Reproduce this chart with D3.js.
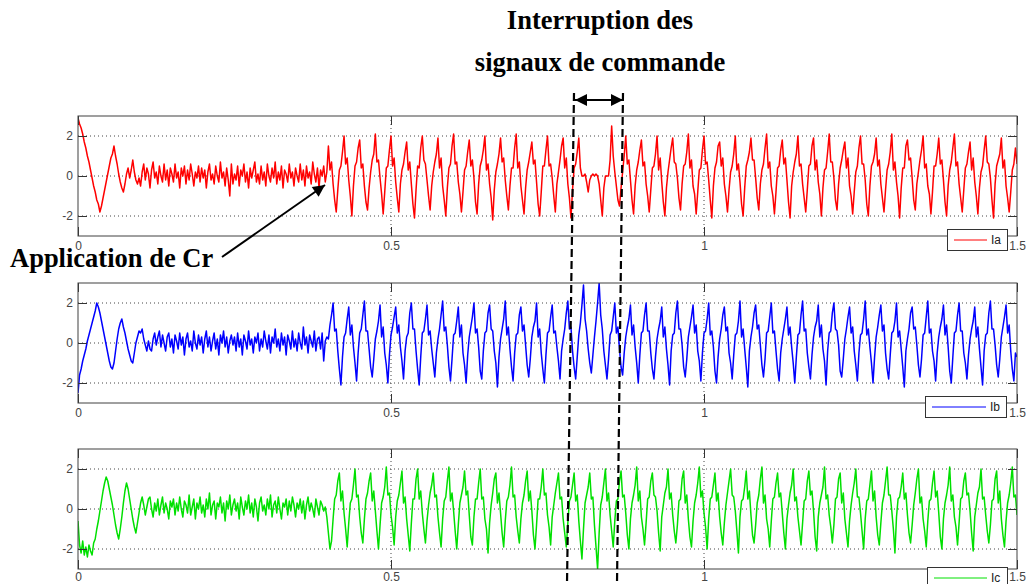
<!DOCTYPE html>
<html>
<head>
<meta charset="utf-8">
<title>Courants Ia Ib Ic</title>
<script src="https://cdnjs.cloudflare.com/ajax/libs/d3/7.8.5/d3.min.js"></script>
<style>
  html, body { margin: 0; padding: 0; background: #fff; }
  svg text { font-family: "Liberation Sans", Arial, sans-serif; }
  .note { font-family: "Liberation Serif", "Times New Roman", serif; font-weight: bold; font-size: 26.5px; fill: #000; }
</style>
</head>
<body>
<svg id="chart" width="1026" height="584"></svg>
<script>
// sample step of the traces (s)
const dt = 0.0025
const xTicks = [0, 0.5, 1, 1.5]
const xTickLabels = ['0', '0.5', '1', '1.5']
const xGrid = [0.5, 1]
const yTicks = [-2, 0, 2]
const yTickLabels = ['-2', '0', '2']
const names = ['Ia', 'Ib', 'Ic']

// phase a current
const ia = [
  2.9, 2.6, 2.4, 2.1, 1.7, 1.4, 1.0, 0.7, 0.3, -0.1, -0.5, -0.8, -1.2, -1.4, -1.8, -1.5, -1.1, -0.7, -0.3, 0.1,
  0.5, 0.9, 1.1, 1.5, 1.0, 0.6, 0.1, -0.3, -0.6, -0.8, -0.4, 0.1, 0.4, -0.1, 0.3, 0.8, 0.2, -0.2, -0.4, -0.1,
  -0.5, 0.2, 0.6, -0.2, 0.4, 0.1, -0.6, 0.3, 0.7, -0.1, 0.2, -0.4, 0.5, 0.0, -0.3, 0.6, -0.2, 0.3, -0.5, 0.4,
  0.1, -0.3, 0.6, -0.1, 0.2, -0.6, 0.4, 0.0, 0.5, -0.4, 0.3, -0.2, 0.6, 0.1, -0.5, 0.2, -0.1, 0.5, -0.3, 0.4,
  -0.1, 0.3, -0.6, 0.2, 0.6, -0.2, 0.1, -0.4, 0.5, 0.0, -0.3, 0.7, -0.1, 0.2, -0.5, 0.4, -0.2, -1.0, 0.6, -0.4,
  0.1, -0.2, 0.5, -0.5, 0.3, 0.0, 0.6, -0.3, 0.2, -0.6, 0.4, -0.1, 0.3, 0.7, -0.3, 0.1, -0.4, 0.5, -0.2, 0.2,
  -0.5, 0.6, 0.0, -0.3, 0.4, -0.1, 0.7, -0.4, 0.2, -0.2, 0.5, -0.6, 0.3, 0.1, -0.3, 0.6, -0.1, 0.2, -0.5, 0.4,
  0.0, -0.3, 0.6, -0.2, 0.3, -0.5, 0.5, -0.1, 0.2, -0.4, 0.7, 0.1, -0.3, 0.4, -0.6, 0.3, 0.0, 0.5, -0.3, 0.2,
  1.5, 0.3, 0.7, -0.4, -1.2, -1.8, -0.7, 0.3, 0.5, 1.2,
  2.0, 0.6, 0.9, -0.2, -1.0, -2.0, -0.5, 0.5, 0.7, 1.4,
  1.8, 0.4, 0.6, -0.5, -1.3, -1.7, -0.6, 0.2, 0.8, 1.1,
  2.1, 0.7, 0.8, -0.1, -0.9, -1.9, -0.8, 0.4, 0.5, 1.3,
  2.0, 0.5, 0.9, -0.3, -1.1, -1.8, -0.4, 0.3, 0.6, 1.2,
  1.7, 0.3, 0.7, -0.4, -1.4, -2.1, -0.7, 0.5, 0.4, 1.4,
  2.0, 0.8, 0.6, -0.2, -1.0, -1.7, -0.5, 0.2, 0.7, 1.1,
  1.9, 0.4, 0.9, -0.5, -1.2, -2.0, -0.6, 0.4, 0.6, 1.5,
  2.1, 0.6, 0.7, -0.3, -0.9, -1.8, -0.8, 0.3, 0.5, 1.2,
  1.8, 0.5, 0.8, -0.1, -1.3, -1.9, -0.4, 0.5, 0.8, 1.3,
  2.0, 0.3, 0.6, -0.4, -1.1, -2.2, -0.7, 0.2, 0.6, 1.1,
  1.9, 0.7, 0.9, -0.2, -1.0, -1.7, -0.5, 0.4, 0.4, 1.4,
  2.1, 0.4, 0.7, -0.5, -1.2, -1.9, -0.6, 0.3, 0.7, 1.2,
  1.7, 0.6, 0.8, -0.3, -1.4, -2.0, -0.8, 0.5, 0.5, 1.3,
  2.0, 0.5, 0.6, -0.1, -1.0, -1.8, -0.4, 0.2, 0.8, 1.5,
  1.9, 0.4, 0.9, -0.4, -1.1, -2.1, -0.7, 0.4, 0.6, 1.2,
  1.9, 0.4, 0.0, 0.0, 0.1, -0.3, -0.8, -0.2, 0.0, 0.1,
  0.0, 0.1, 0.0, -0.4, -1.2, -2.0, -0.6, 0.0, 0.0, 0.0,
  0.8, 2.5, 1.0, 0.2, -0.5, -1.2, -1.5, -0.6, 0.2, 1.0,
  2.0, 0.6, 0.8, -0.2, -1.2, -1.9, -0.5, 0.3, 0.7, 1.3,
  1.8, 0.5, 0.7, -0.4, -1.0, -1.8, -0.7, 0.4, 0.5, 1.1,
  2.0, 0.3, 0.9, -0.3, -1.3, -2.0, -0.6, 0.2, 0.8, 1.4,
  1.9, 0.7, 0.6, -0.1, -1.1, -1.7, -0.4, 0.5, 0.6, 1.2,
  2.1, 0.4, 0.8, -0.5, -0.9, -1.9, -0.8, 0.3, 0.4, 1.3,
  2.0, 0.6, 0.7, -0.2, -1.2, -2.1, -0.5, 0.4, 0.7, 1.5,
  1.7, 0.5, 0.9, -0.4, -1.0, -1.8, -0.7, 0.2, 0.5, 1.1,
  2.0, 0.3, 0.6, -0.3, -1.4, -2.0, -0.6, 0.5, 0.8, 1.2,
  1.9, 0.8, 0.8, -0.1, -1.1, -1.7, -0.4, 0.3, 0.6, 1.4,
  2.1, 0.4, 0.7, -0.5, -1.0, -1.9, -0.8, 0.4, 0.5, 1.3,
  1.8, 0.6, 0.9, -0.2, -1.3, -2.1, -0.5, 0.2, 0.7, 1.1,
  2.0, 0.5, 0.6, -0.4, -1.1, -1.8, -0.7, 0.5, 0.6, 1.5,
  1.9, 0.3, 0.8, -0.3, -0.9, -2.0, -0.6, 0.3, 0.4, 1.2,
  2.1, 0.7, 0.7, -0.1, -1.2, -1.7, -0.4, 0.4, 0.8, 1.3,
  1.7, 0.4, 0.9, -0.5, -1.0, -1.9, -0.8, 0.2, 0.5, 1.4,
  2.0, 0.6, 0.6, -0.2, -1.4, -2.0, -0.5, 0.5, 0.7, 1.1,
  1.9, 0.5, 0.8, -0.4, -1.1, -1.8, -0.7, 0.3, 0.6, 1.2,
  2.1, 0.3, 0.7, -0.3, -1.0, -2.1, -0.6, 0.4, 0.4, 1.5,
  1.8, 0.8, 0.9, -0.1, -1.2, -1.7, -0.4, 0.2, 0.8, 1.3,
  2.0, 0.4, 0.6, -0.5, -0.9, -1.9, -0.8, 0.5, 0.5, 1.1,
  1.9, 0.6, 0.8, -0.2, -1.3, -2.0, -0.5, 0.3, 0.7, 1.4,
  2.1, 0.5, 0.7, -0.4, -1.1, -1.8, -0.7, 0.4, 0.6, 1.2,
  1.7, 0.3, 0.9, -0.3, -1.0, -1.9, -0.6, 0.2, 0.5, 1.3,
  2.0, 0.7, 0.6, -0.1, -1.2, -2.1, -0.4, 0.5, 0.8, 1.1,
  1.9, 0.4, 0.8, -0.5, -1.1, -1.8, -0.8, 0.3, 0.6, 1.4,
  0.6
]

// phase b current
const ib = [
  -2.5, -1.6, -1.3, -0.9, -0.6, -0.3, 0.1, 0.4, 0.7, 1.0, 1.3, 1.6, 2.0, 1.8, 1.5, 1.1, 0.7, 0.3, -0.1, -0.5,
  -0.9, -1.2, -1.3, -1.0, -0.4, 0.2, 0.7, 1.0, 1.2, 0.8, 0.5, 0.1, -0.3, -0.6, -0.9, -1.0, -0.5, 0.0, 0.3, 0.6,
  0.5, 0.7, 0.2, -0.1, -0.4, 0.1, -0.3, -0.4, 0.2, 0.5, -0.1, 0.3, 0.6, -0.2, 0.4, 0.0, -0.4, 0.3, 0.5, -0.2,
  0.2, -0.5, 0.4, 0.1, -0.3, 0.5, -0.1, 0.3, -0.6, 0.2, 0.5, -0.2, 0.1, -0.4, 0.6, 0.0, -0.3, 0.4, -0.1, 0.3,
  -0.5, 0.2, 0.6, -0.2, 0.3, -0.4, 0.1, 0.5, -0.3, 0.2, -0.6, 0.4, 0.0, 0.6, -0.2, 0.3, -0.5, 0.1, 0.4, -0.1,
  0.3, -0.4, 0.5, -0.2, 0.2, -0.6, 0.4, 0.1, -0.3, 0.6, -0.1, 0.2, -0.5, 0.3, 0.0, 0.5, -0.4, 0.2, -0.2, 0.6,
  0.1, -0.3, 0.4, -0.5, 0.3, 0.0, 0.7, -0.2, 0.2, -0.4, 0.5, -0.1, 0.3, -0.6, 0.4, 0.1, -0.3, 0.6, -0.2, 0.2,
  -0.4, 0.5, 0.0, -0.3, 0.8, -0.1, 0.3, -0.5, 0.4, 0.1, -0.2, 0.6, -0.4, 0.2, 0.3, -0.3, 0.5, -0.9, 0.1, 0.3,
  0.2, 0.9, 1.4, 2.0, 0.6, 0.7, -0.4, -1.3, -2.1, -0.7,
  0.3, 0.5, 1.2, 1.8, 0.4, 0.9, -0.2, -1.0, -1.9, -0.5,
  0.5, 0.7, 1.4, 2.1, 0.6, 0.6, -0.3, -1.2, -1.7, -0.8,
  0.2, 0.6, 1.1, 1.9, 0.3, 0.8, -0.5, -1.1, -2.0, -0.6,
  0.4, 0.8, 1.3, 1.8, 0.5, 0.9, -0.2, -0.9, -1.8, -0.4,
  0.3, 0.5, 1.5, 2.0, 0.7, 0.7, -0.4, -1.3, -2.1, -0.7,
  0.5, 0.6, 1.2, 1.9, 0.4, 0.6, -0.3, -1.0, -1.7, -0.5,
  0.2, 0.7, 1.4, 2.1, 0.6, 0.8, -0.1, -1.2, -1.9, -0.8,
  0.4, 0.5, 1.1, 1.8, 0.3, 0.9, -0.5, -1.1, -2.0, -0.6,
  0.3, 0.8, 1.3, 2.0, 0.5, 0.7, -0.2, -1.4, -1.8, -0.4,
  0.5, 0.6, 1.5, 1.9, 0.7, 0.6, -0.4, -1.0, -2.2, -0.7,
  0.2, 0.7, 1.2, 2.1, 0.4, 0.8, -0.3, -1.2, -1.9, -0.5,
  0.4, 0.5, 1.4, 1.8, 0.6, 0.9, -0.1, -1.1, -1.7, -0.8,
  0.3, 0.8, 1.1, 2.0, 0.3, 0.7, -0.5, -1.3, -2.0, -0.6,
  0.5, 0.6, 1.3, 1.9, 0.5, 0.6, -0.2, -0.9, -1.8, -0.4,
  0.2, 0.7, 1.5, 2.1, 0.7, 0.8, -0.4, -1.2, -1.8, -0.7,
  0.4, 1.0, 1.9, 2.9, 1.2, 0.6, -0.3, -1.0, -1.5, -0.6,
  0.3, 1.1, 2.0, 3.0, 1.4, 0.7, -0.4, -1.1, -1.8, -0.8,
  0.4, 0.6, 1.3, 2.0, 0.5, 0.8, -0.3, -1.2, -1.6, -0.5,
  0.3, 0.8, 1.2, 1.9, 0.4, 0.9, -0.2, -1.0, -2.0, -0.6,
  0.5, 0.6, 1.4, 2.0, 0.6, 0.6, -0.5, -1.3, -1.8, -0.7,
  0.2, 0.7, 1.1, 1.8, 0.3, 0.8, -0.3, -1.1, -2.1, -0.4,
  0.4, 0.5, 1.5, 2.1, 0.7, 0.7, -0.1, -1.2, -1.7, -0.8,
  0.3, 0.8, 1.3, 1.9, 0.5, 0.9, -0.4, -0.9, -1.9, -0.5,
  0.5, 0.6, 1.2, 2.0, 0.4, 0.6, -0.2, -1.4, -2.0, -0.7,
  0.2, 0.7, 1.4, 1.8, 0.6, 0.8, -0.5, -1.0, -1.8, -0.6,
  0.4, 0.5, 1.1, 2.1, 0.3, 0.7, -0.3, -1.2, -2.2, -0.4,
  0.3, 0.8, 1.5, 1.9, 0.7, 0.9, -0.1, -1.1, -1.7, -0.8,
  0.5, 0.6, 1.3, 2.0, 0.5, 0.6, -0.4, -1.3, -1.9, -0.5,
  0.2, 0.7, 1.2, 1.8, 0.4, 0.8, -0.2, -1.0, -2.0, -0.7,
  0.4, 0.5, 1.4, 2.1, 0.6, 0.7, -0.5, -1.2, -1.8, -0.6,
  0.3, 0.8, 1.1, 1.9, 0.3, 0.9, -0.3, -0.9, -2.1, -0.4,
  0.5, 0.6, 1.5, 2.0, 0.7, 0.6, -0.1, -1.4, -1.7, -0.8,
  0.2, 0.7, 1.3, 1.8, 0.5, 0.8, -0.4, -1.1, -1.9, -0.5,
  0.4, 0.5, 1.2, 2.1, 0.4, 0.7, -0.2, -1.0, -2.0, -0.7,
  0.3, 0.8, 1.4, 1.9, 0.6, 0.9, -0.5, -1.3, -1.8, -0.6,
  0.5, 0.6, 1.1, 2.0, 0.3, 0.6, -0.3, -1.2, -2.2, -0.4,
  0.2, 0.7, 1.5, 1.8, 0.7, 0.8, -0.1, -1.1, -1.7, -0.8,
  0.4, 0.5, 1.3, 2.1, 0.5, 0.7, -0.4, -0.9, -1.9, -0.5,
  0.3, 0.8, 1.2, 1.9, 0.4, 0.9, -0.2, -1.4, -2.0, -0.7,
  0.5, 0.6, 1.4, 2.0, 0.6, 0.6, -0.5, -1.0, -1.8, -0.6,
  0.2, 0.7, 1.1, 1.8, 0.3, 0.8, -0.3, -1.2, -2.1, -0.4,
  0.4, 0.5, 1.5, 2.1, 0.7, 0.7, -0.1, -1.1, -1.7, -0.8,
  0.3, 0.8, 1.3, 1.9, 0.5, 0.9, -0.4, -1.3, -1.9, -0.5,
  -0.7
]

// phase c current
const ic = [
  -0.6, -1.8, -2.2, -1.6, -2.3, -1.9, -2.4, -1.8, -2.1, -2.3, -1.7, -1.5, -1.0, -0.6, -0.1, 0.4, 0.9, 1.3, 1.6, 1.4,
  1.0, 0.6, 0.2, -0.3, -0.8, -1.2, -1.5, -1.0, -0.4, 0.3, 0.9, 1.3, 1.0, 0.5, 0.0, -0.5, -0.9, -1.2, -0.7, -0.2,
  0.3, 0.6, 0.2, -0.3, 0.1, 0.5, 0.6, 0.0, -0.4, 0.3, -0.1, 0.5, -0.3, 0.2, 0.6, -0.2, 0.3, 0.0, -0.5, 0.4,
  0.1, 0.5, -0.3, 0.3, -0.1, 0.6, 0.0, -0.4, 0.4, 0.2, -0.2, 0.7, -0.3, 0.1, 0.5, -0.5, 0.3, 0.0, 0.6, -0.2,
  0.2, -0.4, 0.5, 0.0, 0.8, -0.3, 0.2, 0.4, -0.5, 0.3, 0.1, 0.6, -0.2, 0.3, -0.6, 0.4, 0.0, 0.7, -0.3, 0.2,
  0.5, -0.1, 0.3, -0.5, 0.6, 0.1, -0.3, 0.4, 0.0, 0.7, -0.2, 0.3, -0.4, 0.5, 0.1, -0.6, 0.3, 0.6, -0.1, 0.2,
  -0.3, 0.5, 0.0, 0.7, -0.4, 0.2, 0.4, -0.2, 0.6, 0.0, -0.5, 0.3, 0.1, 0.5, -0.3, 0.4, -0.1, 0.6, 0.2, -0.4,
  0.3, 0.0, 0.5, -0.2, 0.4, -0.5, 0.2, 0.6, -0.1, 0.3, 0.0, -0.4, 0.5, 0.1, -0.3, 0.4, 0.2, -0.1, 0.1, -0.4,
  -1.2, -2.0, -1.6, -0.5, 0.5, 0.7, 1.4, 1.8, 0.4, 0.9,
  -0.2, -1.0, -1.9, -0.7, 0.3, 0.5, 1.2, 2.0, 0.6, 0.7,
  -0.4, -1.2, -1.7, -0.5, 0.5, 0.8, 1.4, 1.8, 0.4, 0.9,
  -0.1, -1.1, -2.0, -0.8, 0.3, 0.6, 1.1, 2.1, 0.7, 0.8,
  -0.3, -0.9, -1.8, -0.4, 0.4, 0.7, 1.3, 1.9, 0.3, 0.6,
  -0.5, -1.3, -2.1, -0.7, 0.5, 0.5, 1.5, 2.0, 0.5, 0.9,
  -0.2, -1.0, -1.7, -0.6, 0.2, 0.8, 1.2, 1.8, 0.6, 0.7,
  -0.4, -1.2, -1.9, -0.5, 0.4, 0.6, 1.4, 2.1, 0.4, 0.8,
  -0.1, -1.1, -2.0, -0.8, 0.3, 0.7, 1.1, 1.9, 0.7, 0.9,
  -0.3, -1.4, -1.8, -0.4, 0.5, 0.5, 1.3, 2.0, 0.5, 0.6,
  -0.5, -1.0, -2.2, -0.7, 0.2, 0.8, 1.5, 1.8, 0.3, 0.8,
  -0.2, -1.2, -1.9, -0.6, 0.4, 0.6, 1.2, 2.1, 0.6, 0.7,
  -0.4, -1.1, -1.7, -0.5, 0.3, 0.7, 1.4, 1.9, 0.4, 0.9,
  -0.1, -1.3, -2.0, -0.8, 0.5, 0.5, 1.1, 2.0, 0.7, 0.8,
  -0.3, -0.9, -1.8, -0.4, 0.2, 0.8, 1.3, 1.8, 0.5, 0.6,
  -0.5, -1.2, -1.9, -0.7, 0.4, 0.6, 1.2, 1.8, 0.4, 0.7,
  -0.6, -1.6, -2.5, -1.0, 0.3, 0.7, 1.1, 1.8, 0.5, 0.6,
  -0.8, -1.9, -3.0, -1.2, 0.2, 0.6, 1.3, 2.0, 0.4, 0.8,
  -0.3, -1.1, -1.9, -0.6, 0.4, 0.5, 1.4, 1.9, 0.6, 0.7,
  -0.2, -1.3, -2.0, -0.5, 0.3, 0.7, 1.2, 2.1, 0.4, 0.9,
  -0.4, -1.0, -1.8, -0.7, 0.5, 0.6, 1.4, 1.8, 0.7, 0.6,
  -0.1, -1.2, -2.1, -0.4, 0.2, 0.8, 1.1, 2.0, 0.5, 0.8,
  -0.3, -1.1, -1.7, -0.8, 0.4, 0.5, 1.5, 1.9, 0.3, 0.7,
  -0.5, -1.4, -1.9, -0.6, 0.3, 0.7, 1.3, 2.1, 0.6, 0.9,
  -0.2, -0.9, -2.0, -0.5, 0.5, 0.6, 1.2, 1.8, 0.4, 0.8,
  -0.4, -1.2, -1.8, -0.7, 0.2, 0.8, 1.4, 2.0, 0.7, 0.6,
  -0.1, -1.1, -2.2, -0.4, 0.4, 0.5, 1.1, 1.9, 0.5, 0.9,
  -0.3, -1.3, -1.7, -0.8, 0.3, 0.7, 1.5, 2.1, 0.3, 0.7,
  -0.5, -1.0, -1.9, -0.6, 0.5, 0.6, 1.3, 1.8, 0.6, 0.8,
  -0.2, -1.2, -2.0, -0.5, 0.2, 0.8, 1.2, 2.0, 0.4, 0.6,
  -0.4, -1.1, -1.8, -0.7, 0.4, 0.5, 1.4, 1.9, 0.7, 0.9,
  -0.1, -1.4, -2.1, -0.4, 0.3, 0.7, 1.1, 2.1, 0.5, 0.7,
  -0.3, -0.9, -1.7, -0.8, 0.5, 0.6, 1.5, 1.8, 0.3, 0.8,
  -0.5, -1.2, -1.9, -0.6, 0.2, 0.8, 1.3, 2.0, 0.6, 0.6,
  -0.2, -1.1, -2.0, -0.5, 0.4, 0.5, 1.2, 1.9, 0.4, 0.9,
  -0.4, -1.3, -1.8, -0.7, 0.3, 0.7, 1.4, 2.1, 0.7, 0.7,
  -0.1, -1.0, -2.2, -0.4, 0.5, 0.6, 1.1, 1.8, 0.5, 0.8,
  -0.3, -1.2, -1.7, -0.8, 0.2, 0.8, 1.5, 2.0, 0.3, 0.6,
  -0.5, -1.1, -1.9, -0.6, 0.4, 0.5, 1.3, 1.9, 0.6, 0.9,
  -0.2, -1.4, -2.0, -0.5, 0.3, 0.7, 1.2, 2.1, 0.4, 0.7,
  -0.4, -0.9, -1.8, -0.7, 0.5, 0.6, 1.4, 1.8, 0.7, 0.8,
  -0.1, -1.2, -2.1, -0.4, 0.2, 0.8, 1.1, 2.0, 0.5, 0.6,
  -0.3, -1.1, -1.7, -0.8, 0.4, 0.5, 1.5, 1.9, 0.3, 0.9,
  -0.5, -1.3, -1.9, -0.6, 0.3, 0.7, 1.3, 2.1, 0.6, 0.7,
  -0.3
]

const svg = d3.select('#chart')

const left = 78
const right = 1017
const panelH = 120
const tops = [116, 283, 449]
const colors = ['#ff0000', '#0000ff', '#00e000']
// legend boxes: x, y, width
const legends = [[947, 229, 60], [925, 396, 81], [927, 567, 80]]

const x = d3.scaleLinear().domain([0, 1.5]).range([left, right])

svg.append('rect').attr('width', 1026).attr('height', 584).attr('fill', '#fff')

const defs = svg.append('defs')

const series = [ia, ib, ic]

series.forEach((values, k) => {
  const top = tops[k]
  const y = d3.scaleLinear().domain([-3, 3]).range([top + panelH, top])
  const g = svg.append('g')

  defs.append('clipPath').attr('id', 'clip' + k)
    .append('rect')
    .attr('x', left).attr('y', top)
    .attr('width', right - left).attr('height', panelH)

  // dotted grid
  g.selectAll('.gy').data(yTicks).join('line')
    .attr('x1', left).attr('x2', right)
    .attr('y1', d => y(d)).attr('y2', d => y(d))
    .attr('stroke', '#444').attr('stroke-width', 1)
    .attr('stroke-dasharray', '1,3')

  g.selectAll('.gx').data(xGrid).join('line')
    .attr('x1', d => x(d)).attr('x2', d => x(d))
    .attr('y1', top).attr('y2', top + panelH)
    .attr('stroke', '#444').attr('stroke-width', 1)
    .attr('stroke-dasharray', '1,3')

  const line = d3.line()
    .x((d, i) => x(i * dt))
    .y(d => y(d))

  g.append('path')
    .attr('d', line(values))
    .attr('clip-path', 'url(#clip' + k + ')')
    .attr('fill', 'none')
    .attr('stroke', colors[k])
    .attr('stroke-width', 1.5)
    .attr('stroke-linejoin', 'round')

  // inward ticks on the four sides
  const styleAxis = (sel) => {
    sel.select('.domain').remove()
    sel.selectAll('.tick line').attr('stroke', '#333')
    sel.selectAll('.tick text').attr('fill', '#444').style('font-size', '12px')
  }

  g.append('g').attr('transform', `translate(0,${top + panelH})`)
    .call(d3.axisBottom(x).tickValues(xTicks).tickFormat((d, i) => xTickLabels[i])
      .tickSize(-9).tickPadding(k === 2 ? 3 : 5))
    .call(styleAxis)

  g.append('g').attr('transform', `translate(0,${top})`)
    .call(d3.axisTop(x).tickValues(xTicks).tickFormat('').tickSize(-9))
    .call(styleAxis)

  g.append('g').attr('transform', `translate(${left},0)`)
    .call(d3.axisLeft(y).tickValues(yTicks).tickFormat((d, i) => yTickLabels[i])
      .tickSize(-9).tickPadding(5))
    .call(styleAxis)

  g.append('g').attr('transform', `translate(${right},0)`)
    .call(d3.axisRight(y).tickValues(yTicks).tickFormat('').tickSize(-9))
    .call(styleAxis)

  g.append('rect')
    .attr('x', left).attr('y', top)
    .attr('width', right - left).attr('height', panelH)
    .attr('fill', 'none').attr('stroke', '#404040').attr('stroke-width', 1)

  // legend
  const [lx, ly, lw] = legends[k]
  const lg = g.append('g')
  lg.append('rect')
    .attr('x', lx + 0.5).attr('y', ly + 0.5)
    .attr('width', lw).attr('height', 21)
    .attr('fill', '#fff').attr('stroke', '#333').attr('stroke-width', 1)
  lg.append('line')
    .attr('x1', lx + 7).attr('x2', lx + lw - 20)
    .attr('y1', ly + 11).attr('y2', ly + 11)
    .attr('stroke', colors[k]).attr('stroke-width', 1)
  lg.append('text')
    .attr('x', lx + lw - 16).attr('y', ly + 15)
    .attr('fill', '#222').style('font-size', '12px')
    .text(names[k])
})

// annotations
const marker = (id, w, h) => {
  defs.append('marker')
    .attr('id', id)
    .attr('viewBox', '0 0 10 10')
    .attr('refX', 10).attr('refY', 5)
    .attr('markerUnits', 'userSpaceOnUse')
    .attr('markerWidth', w).attr('markerHeight', h)
    .attr('orient', 'auto-start-reverse')
    .append('path').attr('d', 'M0,0L10,5L0,10Z').attr('fill', '#000')
}
marker('headBig', 17, 12)
marker('headDbl', 16, 12)

const notes = svg.append('g')

notes.append('text').attr('class', 'note')
  .attr('x', 600).attr('y', 29).attr('text-anchor', 'middle')
  .text('Interruption des')
notes.append('text').attr('class', 'note')
  .attr('x', 600).attr('y', 71).attr('text-anchor', 'middle')
  .text('signaux de commande')

notes.append('text').attr('class', 'note')
  .attr('x', 10).attr('y', 267)
  .text('Application de Cr')

notes.append('line')
  .attr('x1', 222).attr('y1', 257).attr('x2', 325).attr('y2', 185)
  .attr('stroke', '#000').attr('stroke-width', 2)
  .attr('marker-end', 'url(#headBig)')

notes.append('line')
  .attr('x1', 575).attr('y1', 100).attr('x2', 623).attr('y2', 100)
  .attr('stroke', '#000').attr('stroke-width', 2)
  .attr('marker-start', 'url(#headDbl)')
  .attr('marker-end', 'url(#headDbl)')

const dashed = [[574, 93, 567, 584], [623, 93, 617, 584]]
notes.selectAll('.dash').data(dashed).join('line')
  .attr('x1', d => d[0]).attr('y1', d => d[1])
  .attr('x2', d => d[2]).attr('y2', d => d[3])
  .attr('stroke', '#000').attr('stroke-width', 2.2)
  .attr('stroke-dasharray', '8,4')
</script>
</body>
</html>
